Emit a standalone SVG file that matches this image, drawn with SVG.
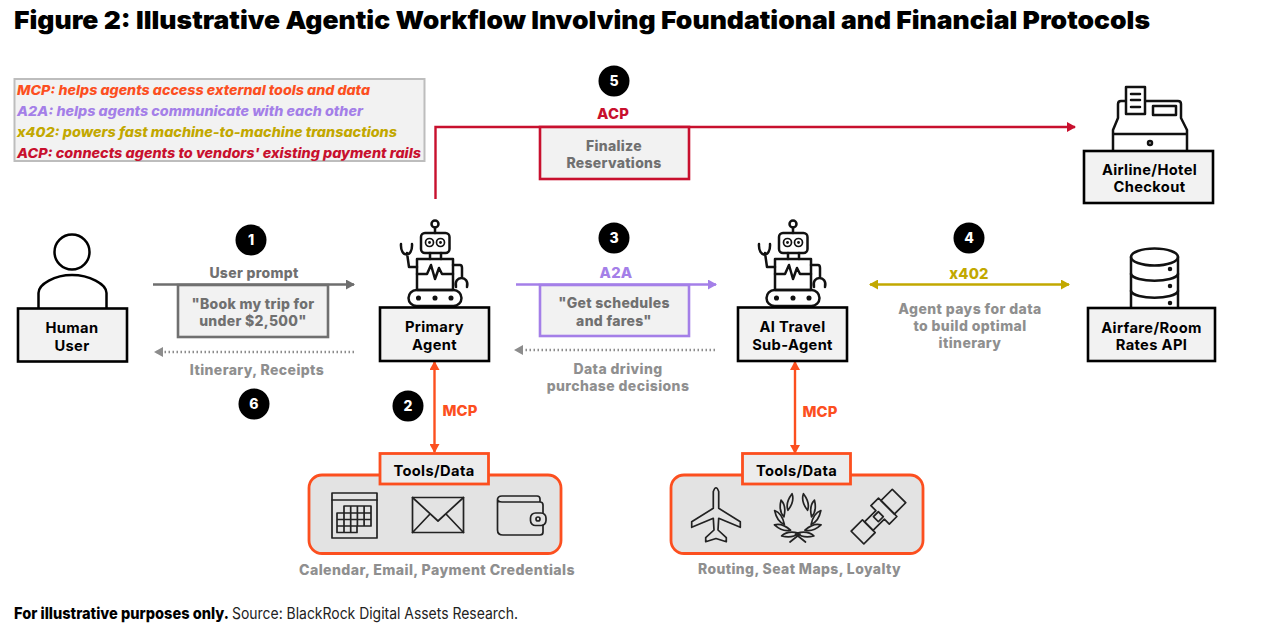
<svg xmlns="http://www.w3.org/2000/svg" width="1280" height="640" viewBox="0 0 1280 640">
<style>
text{font-family:"Inter","Liberation Sans",sans-serif;text-anchor:middle}
.t{font-size:14.700px;font-weight:700;fill:#000;letter-spacing:.35px}
.g{font-size:14px;font-weight:800;fill:#8f8f8f;letter-spacing:.4px}
.d{font-size:14px;font-weight:800;fill:#707070;letter-spacing:.3px}
.c{font-size:14.800px;font-weight:800;letter-spacing:.2px}
.leg{font-size:13.500px;font-weight:800;font-style:italic;text-anchor:start}
.box{fill:#f2f2f2;stroke:#000;stroke-width:2.600}
.ic{fill:none;stroke:#111;stroke-width:2.500;stroke-linecap:round;stroke-linejoin:round}
.ic2{fill:none;stroke:#222;stroke-width:1.700;stroke-linejoin:round;stroke-linecap:round}
.num{font-size:14px;font-weight:800;fill:#fff}
.tool{fill:#e3e3e3;stroke:#fc4f1f;stroke-width:2.800}
.toolh{fill:#ececec;stroke:#fc4f1f;stroke-width:2.800}
</style>
<defs>
<marker id="aG" markerWidth="10" markerHeight="10" refX="8" refY="5" orient="auto-start-reverse" markerUnits="userSpaceOnUse"><path d="M0,0L9,5L0,10z" fill="#6e6e6e"/></marker>
<marker id="aL" markerWidth="10" markerHeight="10" refX="8" refY="5" orient="auto-start-reverse" markerUnits="userSpaceOnUse"><path d="M0,0L9,5L0,10z" fill="#8c8c8c"/></marker>
<marker id="aP" markerWidth="10" markerHeight="10" refX="8" refY="5" orient="auto-start-reverse" markerUnits="userSpaceOnUse"><path d="M0,0L9,5L0,10z" fill="#a47fe8"/></marker>
<marker id="aR" markerWidth="10" markerHeight="10" refX="8" refY="5" orient="auto-start-reverse" markerUnits="userSpaceOnUse"><path d="M0,0L9,5L0,10z" fill="#c8102e"/></marker>
<marker id="aO" markerWidth="10" markerHeight="10" refX="8" refY="5" orient="auto-start-reverse" markerUnits="userSpaceOnUse"><path d="M0,0L9,5L0,10z" fill="#fc4f1f"/></marker>
<marker id="aY" markerWidth="10" markerHeight="10" refX="8" refY="5" orient="auto-start-reverse" markerUnits="userSpaceOnUse"><path d="M0,0L9,5L0,10z" fill="#c2a800"/></marker>
<path id="leaf" d="M0,-8.500Q4.500,-2 0,8.500Q-4.500,2 0,-8.500z"/>
<g id="robot" class="ic">
<circle cx="435" cy="224" r="3.500"/><path d="M435,227.500V233"/>
<rect x="421" y="233" width="28.500" height="20" rx="4"/>
<circle cx="429.500" cy="242.500" r="4" stroke-width="1.700"/><circle cx="440.500" cy="242.500" r="4" stroke-width="1.700"/>
<circle cx="429.500" cy="242.500" r="1.400" fill="#111" stroke="none"/><circle cx="440.500" cy="242.500" r="1.400" fill="#111" stroke="none"/>
<path d="M430,253V259M441,253V259"/>
<rect x="417" y="259" width="36" height="31"/>
<path d="M417,274H427L431,265L435,279L439,268L442,274H453"/>
<path d="M417,267H409L407,253M401,244C400,258 413,258 412,244"/>
<path d="M453,265H460Q462,265 462,268V278M456,287C453,275 470,275 467,287"/>
<rect x="408.500" y="290" width="53" height="16" rx="8"/>
<circle cx="418.500" cy="298" r="1.300" fill="#111"/><circle cx="435" cy="298" r="1.300" fill="#111"/><circle cx="451" cy="298" r="1.300" fill="#111"/>
</g>
</defs>
<rect width="1280" height="640" fill="#fff"/>
<text x="14" y="29" textLength="1136" lengthAdjust="spacingAndGlyphs" style="text-anchor:start;font-size:25px;font-weight:900;fill:#000">Figure 2: Illustrative Agentic Workflow Involving Foundational and Financial Protocols</text>

<g id="legend">
<rect x="14.500" y="79" width="410" height="82" fill="#f2f2f2" stroke="#bdbdbd" stroke-width="2"/>
<text class="leg" x="17" y="95" fill="#fc4f1f" textLength="353" lengthAdjust="spacingAndGlyphs">MCP: helps agents access external tools and data</text>
<text class="leg" x="17" y="116" fill="#a47fe8" textLength="346" lengthAdjust="spacingAndGlyphs">A2A: helps agents communicate with each other</text>
<text class="leg" x="17" y="137" fill="#c2a800" textLength="380" lengthAdjust="spacingAndGlyphs">x402: powers fast machine-to-machine transactions</text>
<text class="leg" x="17" y="158" fill="#c8102e" textLength="404" lengthAdjust="spacingAndGlyphs">ACP: connects agents to vendors' existing payment rails</text>
</g>

<g id="connectors" fill="none" stroke-width="2.400">
<path d="M153,284.500H354" stroke="#6e6e6e" marker-end="url(#aG)"/>
<path d="M354,352H155" stroke="#8c8c8c" stroke-dasharray="1.500 2.500" marker-end="url(#aL)"/>
<path d="M516,284.500H716" stroke="#a47fe8" marker-end="url(#aP)"/>
<path d="M715,350H515" stroke="#8c8c8c" stroke-dasharray="1.500 2.500" marker-end="url(#aL)"/>
<path d="M435.500,199V127H1075" stroke="#c8102e" marker-end="url(#aR)"/>
<path d="M870,284.500H1069" stroke="#c2a800" marker-start="url(#aY)" marker-end="url(#aY)"/>
<path d="M434.500,362V452" stroke="#fc4f1f" marker-start="url(#aO)" marker-end="url(#aO)"/>
<path d="M795,362V453" stroke="#fc4f1f" marker-start="url(#aO)" marker-end="url(#aO)"/>
</g>

<g id="step-1"><circle cx="251" cy="240" r="15.500"/><text class="num" x="251" y="245">1</text></g>
<g id="step-2"><circle cx="408" cy="406" r="15.500"/><text class="num" x="408" y="411">2</text></g>
<g id="step-3"><circle cx="614" cy="238" r="15.500"/><text class="num" x="614" y="243">3</text></g>
<g id="step-4"><circle cx="969" cy="238" r="15.500"/><text class="num" x="969" y="243">4</text></g>
<g id="step-5"><circle cx="614" cy="81" r="15.500"/><text class="num" x="614" y="86">5</text></g>
<g id="step-6"><circle cx="254" cy="404" r="15.500"/><text class="num" x="254" y="409">6</text></g>

<g id="labels">
<text class="d" x="254" y="278">User prompt</text>
<text class="g" x="257" y="375">Itinerary, Receipts</text>
<text class="c" x="613" y="119" fill="#c8102e">ACP</text>
<text class="c" x="616" y="278" fill="#a47fe8">A2A</text>
<text class="c" x="969" y="279" fill="#c2a800">x402</text>
<text class="g" x="618" y="374">Data driving</text>
<text class="g" x="618" y="391">purchase decisions</text>
<text class="g" x="970" y="314">Agent pays for data</text>
<text class="g" x="970" y="331">to build optimal</text>
<text class="g" x="970" y="348">itinerary</text>
<text class="c" x="460" y="416" fill="#fc4f1f">MCP</text>
<text class="c" x="820" y="417" fill="#fc4f1f">MCP</text>
<text class="g" x="437" y="575" textLength="276" lengthAdjust="spacingAndGlyphs">Calendar, Email, Payment Credentials</text>
<text class="g" x="799.500" y="574" textLength="203" lengthAdjust="spacingAndGlyphs">Routing, Seat Maps, Loyalty</text>
</g>

<g id="prompt-box">
<rect x="178" y="285" width="150" height="52" fill="#f2f2f2" stroke="#707070" stroke-width="2.600"/>
<text class="d" x="253" y="309">"Book my trip for</text><text class="d" x="253" y="326">under $2,500"</text>
</g>
<g id="finalize-box">
<rect x="540" y="127" width="149" height="52" fill="#f2f2f2" stroke="#c8102e" stroke-width="2.600"/>
<text class="d" x="614" y="151">Finalize</text><text class="d" x="614" y="168">Reservations</text>
</g>
<g id="schedules-box">
<rect x="540" y="285" width="149" height="51" fill="#f2f2f2" stroke="#a47fe8" stroke-width="2.600"/>
<text class="d" x="614" y="308">"Get schedules</text><text class="d" x="614" y="326">and fares"</text>
</g>

<g id="human">
<circle cx="72" cy="252" r="17.500" fill="none" stroke="#000" stroke-width="2.500"/>
<path d="M38.500,308V293C38.500,284 55,275 72,275C89,275 106.500,284 106.500,293V308" fill="none" stroke="#000" stroke-width="2.500"/>
<rect class="box" x="18" y="308.500" width="109" height="53"/>
<text class="t" x="72" y="333">Human</text><text class="t" x="72" y="351">User</text>
</g>
<g id="primary-agent">
<use href="#robot"/>
<rect class="box" x="380" y="307.500" width="109" height="53.500"/>
<text class="t" x="434.500" y="332">Primary</text><text class="t" x="434.500" y="350">Agent</text>
</g>
<g id="sub-agent">
<use href="#robot" transform="translate(358,0)"/>
<rect class="box" x="738" y="307.500" width="109" height="53.500"/>
<text class="t" x="792.500" y="332">AI Travel</text><text class="t" x="792.500" y="350">Sub-Agent</text>
</g>
<g id="checkout">
<g class="ic" stroke-width="2">
<path d="M1113,151V130L1118,118V104Q1118,101 1121,101H1178Q1181,101 1181,104V118L1187,130V151M1113,134H1187"/>
<rect x="1126" y="87" width="19" height="27" fill="#fff"/>
<path d="M1131,94H1140M1131,100H1140M1131,107H1140"/>
<rect x="1153" y="106" width="23" height="9"/>
<circle cx="1150" cy="143" r="2"/>
</g>
<rect class="box" x="1084" y="151" width="129" height="52"/>
<text class="t" x="1149.500" y="175">Airline/Hotel</text><text class="t" x="1149.500" y="192">Checkout</text>
</g>
<g id="rates-api">
<g class="ic" stroke-width="2">
<path d="M1131,257V308M1178,257V308"/>
<ellipse cx="1154.500" cy="257" rx="23.500" ry="8.500"/>
<path d="M1131,274C1134,283 1175,283 1178,274M1131,291C1134,300 1175,300 1178,291"/>
<circle cx="1170" cy="269" r="1" fill="#111"/><circle cx="1170" cy="286" r="1" fill="#111"/><circle cx="1170" cy="303" r="1" fill="#111"/>
</g>
<rect class="box" x="1088" y="308" width="127" height="53"/>
<text class="t" x="1151.500" y="333">Airfare/Room</text><text class="t" x="1151.500" y="350">Rates API</text>
</g>

<g id="tools-primary">
<rect class="tool" x="309" y="475" width="252" height="78.500" rx="13"/>
<rect class="toolh" x="380" y="453.500" width="108.500" height="30.500"/>
<text class="t" x="434" y="476">Tools/Data</text>
<g class="ic2">
<rect x="332" y="493" width="45" height="45"/><path d="M332,500H377"/>
<path d="M344,506H371V526H357V532.500H337V513H344zM350.700,506V532.500M357.400,506V526M364.100,506V526M344,513H371M337,519.500H371M337,526H357M344,506V532.500"/>
<rect x="412.500" y="497.500" width="51" height="35"/>
<path d="M412.500,497.500L438,521L463.500,497.500M412.500,532.500L430,514M463.500,532.500L446,514"/>
<path d="M543,525V532Q543,535 540,535H503Q497.500,535 497.500,530V500Q497.500,496 502,496H537Q540,496 540,499V502M497.500,499Q497.500,502 502,502H540Q543,502 543,505V513"/>
<rect x="530.500" y="513" width="15.500" height="12.500" rx="5"/>
<circle cx="538" cy="519" r="2"/>
</g>
</g>
<g id="tools-sub">
<rect class="tool" x="671" y="475" width="252" height="78.500" rx="13"/>
<rect class="toolh" x="742.500" y="453.500" width="108" height="30.500"/>
<text class="t" x="796.500" y="476">Tools/Data</text>
<g class="ic2">
<path d="M713.300,491.500Q716,484 718.700,491.500V508.300L740.300,521.700V527.300L718.700,518.300L718,530L726.300,537.700V541.700L716,538.500L705.700,541.700V537.700L714,530L713.300,518.300L691.700,527.300V521.700L713.300,508.300z"/>
<g id="laurel-l">
<use href="#leaf" transform="translate(790,502) rotate(14)"/>
<use href="#leaf" transform="translate(782.500,508.500) rotate(-10)"/>
<use href="#leaf" transform="translate(779.500,517.500) rotate(-35)"/>
<use href="#leaf" transform="translate(782.500,527.500) rotate(-72)"/>
<use href="#leaf" transform="translate(790,534.500) rotate(-100)"/>
</g>
<g transform="translate(1595.500,0) scale(-1,1)">
<use href="#leaf" transform="translate(790,502) rotate(14)"/>
<use href="#leaf" transform="translate(782.500,508.500) rotate(-10)"/>
<use href="#leaf" transform="translate(779.500,517.500) rotate(-35)"/>
<use href="#leaf" transform="translate(782.500,527.500) rotate(-72)"/>
<use href="#leaf" transform="translate(790,534.500) rotate(-100)"/>
</g>
<path d="M790,542L800,534M805.500,542L795.500,534"/>
<g transform="translate(878,517) rotate(-45)">
<rect x="13.700" y="-9.500" width="16" height="19"/>
<rect x="-29" y="-9" width="16" height="18"/>
<path d="M-13,-6H3V-13H13.700V13H3V6H-13z"/>
<rect x="-3" y="-3.500" width="7" height="7"/>
</g>
</g>
</g>

<g id="footer">
<text x="14" y="619" textLength="215" lengthAdjust="spacingAndGlyphs" style="text-anchor:start;font-size:16px;font-weight:800;fill:#000">For illustrative purposes only.</text>
<text x="232" y="619" textLength="286" lengthAdjust="spacingAndGlyphs" style="text-anchor:start;font-size:16px;font-weight:400;fill:#222">Source: BlackRock Digital Assets Research.</text>
</g>
</svg>
